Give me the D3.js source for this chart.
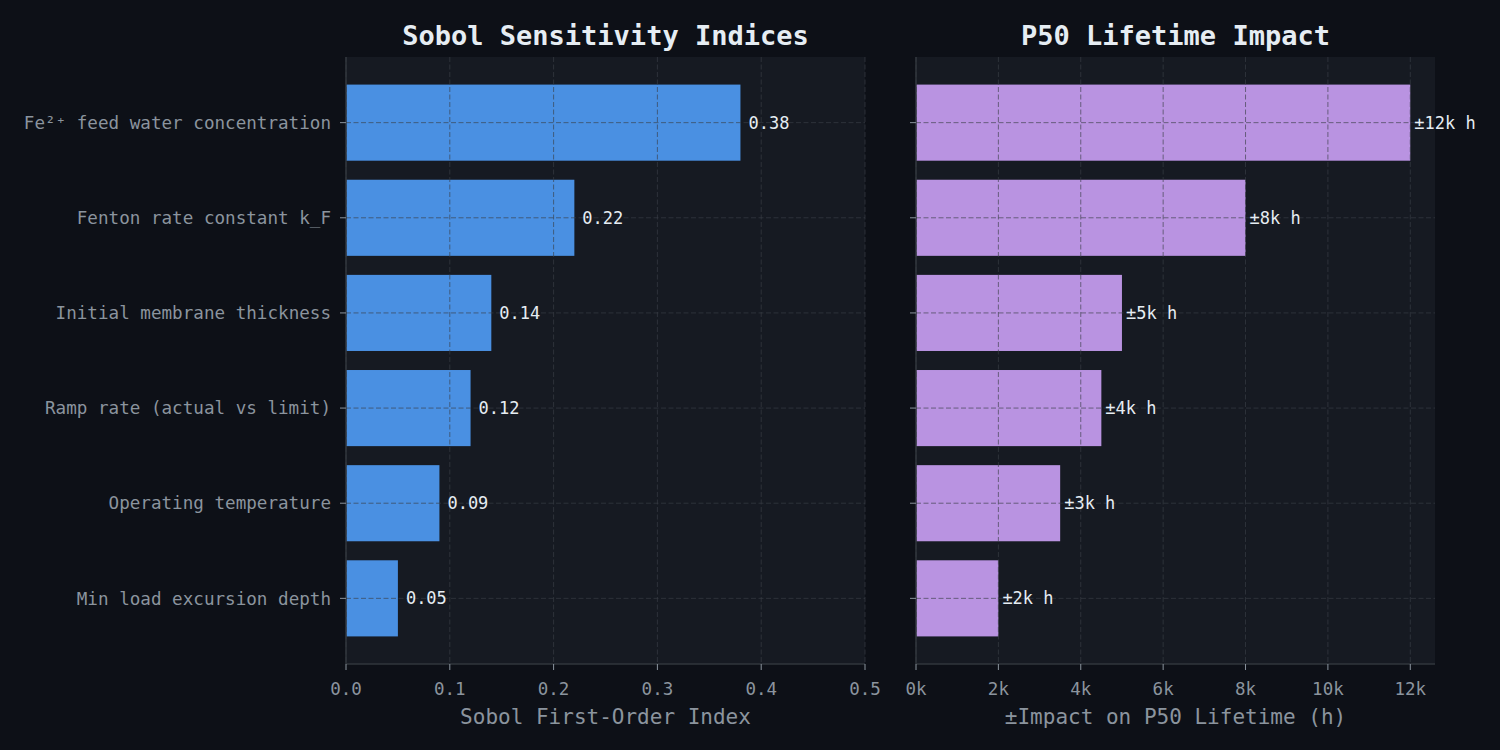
<!DOCTYPE html>
<html>
<head>
<meta charset="utf-8">
<script src="https://cdn.jsdelivr.net/npm/d3@7"></script>
<style>
  body { margin: 0; background: #0d1017; }
  svg text { font-family: "DejaVu Sans Mono", monospace; }
</style>
</head>
<body>
<script>
// data
const factors = [
  'Fe²⁺ feed water concentration',
  'Fenton rate constant k_F',
  'Initial membrane thickness',
  'Ramp rate (actual vs limit)',
  'Operating temperature',
  'Min load excursion depth'
]
const sobol = [0.38, 0.22, 0.14, 0.12, 0.09, 0.05]
const impact = [12000, 8000, 5000, 4500, 3500, 2000]
const impactLabels = ['±12k h', '±8k h', '±5k h', '±4k h', '±3k h', '±2k h']
const sobolTicks = [0, 0.1, 0.2, 0.3, 0.4, 0.5]
const impactTicks = [0, 2000, 4000, 6000, 8000, 10000, 12000]

const W = 1500, H = 750
const plotTop = 57, plotBottom = 664
const panels = [
  { x0: 346, x1: 865, title: 'Sobol Sensitivity Indices', xlabel: 'Sobol First-Order Index',
    vals: sobol, labels: sobol.map(v => v.toFixed(2)), dom: [0, 0.5], ticks: sobolTicks,
    fmt: d => d.toFixed(1), color: '#4a90e2', off: 8, ylabels: true },
  { x0: 916, x1: 1435, title: 'P50 Lifetime Impact', xlabel: '±Impact on P50 Lifetime (h)',
    vals: impact, labels: impactLabels, dom: [0, 12600], ticks: impactTicks,
    fmt: d => (d / 1000) + 'k', color: '#b993e1', off: 4, ylabels: false }
]

const svg = d3.select('body').append('svg')
  .attr('width', W).attr('height', H)
svg.append('rect').attr('width', W).attr('height', H).attr('fill', '#0d1017')

// y positions: matplotlib barh, first item at top
const y = d3.scaleLinear().domain([-0.69, 5.69]).range([plotTop, plotBottom])
const bh = y(0.4) - y(-0.4)

panels.forEach(p => {
  const x = d3.scaleLinear().domain(p.dom).range([p.x0, p.x1])
  const g = svg.append('g')

  g.append('rect')
    .attr('x', p.x0).attr('y', plotTop)
    .attr('width', p.x1 - p.x0).attr('height', plotBottom - plotTop)
    .attr('fill', '#161a22')

  g.selectAll('.bar').data(p.vals).join('rect')
    .attr('x', x(0))
    .attr('y', (d, i) => y(i) - bh / 2)
    .attr('width', d => x(d) - x(0))
    .attr('height', bh)
    .attr('fill', p.color)

  // grid over the bars
  g.selectAll('.vg').data(p.ticks).join('line')
    .attr('x1', d => x(d)).attr('x2', d => x(d))
    .attr('y1', plotTop).attr('y2', plotBottom)
    .attr('stroke', '#3a3f47').attr('stroke-opacity', 0.65).attr('stroke-dasharray', '5,2.5')
  g.selectAll('.hg').data(factors).join('line')
    .attr('x1', p.x0).attr('x2', p.x1)
    .attr('y1', (d, i) => y(i)).attr('y2', (d, i) => y(i))
    .attr('stroke', '#3a3f47').attr('stroke-opacity', 0.65).attr('stroke-dasharray', '5,2.5')

  g.selectAll('.vl').data(p.vals).join('text')
    .attr('x', d => x(d) + p.off)
    .attr('y', (d, i) => y(i))
    .attr('dy', '0.35em')
    .attr('fill', '#e6edf3').attr('font-size', 17)
    .text((d, i) => p.labels[i])

  // spines
  g.append('line').attr('x1', p.x0).attr('x2', p.x0).attr('y1', plotTop).attr('y2', plotBottom)
    .attr('stroke', '#30363d').attr('stroke-width', 1.5)
  g.append('line').attr('x1', p.x0).attr('x2', p.x1).attr('y1', plotBottom).attr('y2', plotBottom)
    .attr('stroke', '#30363d').attr('stroke-width', 1.5)

  // x ticks
  const xt = g.selectAll('.xt').data(p.ticks).join('g')
    .attr('transform', d => `translate(${x(d)},${plotBottom})`)
  xt.append('line').attr('y2', 6).attr('stroke', '#8b949e')
  xt.append('text').attr('y', 31).attr('text-anchor', 'middle')
    .attr('fill', '#8b949e').attr('font-size', 17.5).text(p.fmt)

  // y ticks
  const yt = g.selectAll('.yt').data(factors).join('g')
    .attr('transform', (d, i) => `translate(${p.x0},${y(i)})`)
  yt.append('line').attr('x2', -6).attr('stroke', '#8b949e')
  if (p.ylabels) {
    yt.append('text').attr('x', -15).attr('dy', '0.35em').attr('text-anchor', 'end')
      .attr('fill', '#8b949e').attr('font-size', 17.6).text(d => d)
  }

  g.append('text').attr('x', (p.x0 + p.x1) / 2).attr('y', 45)
    .attr('text-anchor', 'middle').attr('fill', '#e6edf3')
    .attr('font-size', 27).attr('font-weight', 'bold').text(p.title)
  g.append('text').attr('x', (p.x0 + p.x1) / 2).attr('y', 724)
    .attr('text-anchor', 'middle').attr('fill', '#8b949e')
    .attr('font-size', 21).text(p.xlabel)
})
</script>
</body>
</html>
